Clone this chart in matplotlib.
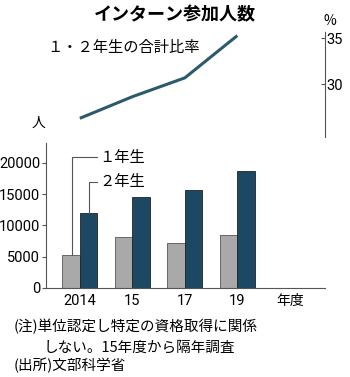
import matplotlib.pyplot as plt
import numpy as np

plt.rcParams['font.family'] = ['Noto Sans CJK JP', 'DejaVu Sans']

# データ
years = ["2014", "15", "17", "19"]
grade1 = [5200, 8100, 7200, 8400]
grade2 = [12000, 14600, 15600, 18700]
ratio = [26.3, 28.65, 30.7, 35.3]

gray = "#a9a9a9"
navy = "#1c4863"
line_c = "#2b5a6b"
num_font = ['Roboto', 'Noto Sans CJK JP', 'DejaVu Sans']

fig = plt.figure(figsize=(3.5, 3.77), dpi=100)
fig.set_facecolor("w")

x = np.arange(len(years))
w = 0.333

# 棒グラフ
ax = fig.add_axes([0.1306, 0.2361, 0.798, 0.3846])
ax.bar(x - w / 2, grade1, w, color=gray, edgecolor="#555555", linewidth=0.6)
ax.bar(x + w / 2, grade2, w, color=navy, edgecolor="#222222", linewidth=0.6)
ax.set_xlim(-0.65, 4.67)
ax.set_ylim(0, 23200)
ax.set_yticks([0, 5000, 10000, 15000, 20000])
ax.set_yticklabels(["0", "5000", "10000", "15000", "20000"], family=num_font, fontsize=10.5)
ax.set_xticks(list(x) + [4])
ax.set_xticklabels(years + ["年度"], fontsize=10)
for lab in ax.get_xticklabels()[:4]:
    lab.set_family(num_font)
    lab.set_fontsize(10.5)
ax.tick_params(axis="x", length=0, pad=4)
ax.tick_params(axis="y", length=3, width=0.8, color="#555555", pad=1)
for s in ["top", "right"]:
    ax.spines[s].set_visible(False)
for s in ["left", "bottom"]:
    ax.spines[s].set_color("#555555")
    ax.spines[s].set_linewidth(0.8)

# 引き出し線
ax.plot([-0.158, -0.158, 0.33], [grade1[0], 20900, 20900],
        color="#555555", lw=0.8, clip_on=False)
ax.text(0.37, 20900, "１年生", fontsize=11, va="center", ha="left")
ax.plot([0.177, 0.177, 0.33], [grade2[0], 17000, 17000],
        color="#555555", lw=0.8, clip_on=False)
ax.text(0.37, 17000, "２年生", fontsize=11, va="center", ha="left")

# 折れ線グラフ
ax2 = fig.add_axes([0.1306, 0.6374, 0.798, 0.2785])
ax2.plot(x, ratio, color=line_c, lw=2.2, solid_capstyle="butt")
ax2.set_xlim(-0.65, 4.67)
ax2.set_ylim(24.3, 35.72)
ax2.set_xticks([])
ax2.yaxis.tick_right()
ax2.set_yticks([30, 35])
ax2.set_yticklabels(["30", "35"], family=num_font, fontsize=10.5)
ax2.tick_params(axis="y", direction="in", length=3, width=0.8, color="#555555", pad=1)
for s in ["top", "left", "bottom"]:
    ax2.spines[s].set_visible(False)
ax2.spines["right"].set_color("#555555")
ax2.spines["right"].set_linewidth(0.8)
ax2.patch.set_alpha(0)
ax2.text(-0.62, 34.0, "１・２年生の合計比率", fontsize=11, va="center", ha="left")

# 文字
fig.text(0.5, 0.96, "インターン参加人数", fontsize=13, fontweight="bold", ha="center", va="center")
fig.text(0.943, 0.944, "%", fontsize=10, ha="center", va="center")
fig.text(0.11, 0.674, "人", fontsize=10, ha="center", va="center")
fig.text(0.04, 0.135, "(注)単位認定し特定の資格取得に関係", fontsize=10.5, ha="left", va="center")
fig.text(0.123, 0.077, "しない。15年度から隔年調査", fontsize=10.5, ha="left", va="center")
fig.text(0.04, 0.03, "(出所)文部科学省", fontsize=10.5, ha="left", va="center")

fig.savefig("out.png", dpi=100)
plt.close()
